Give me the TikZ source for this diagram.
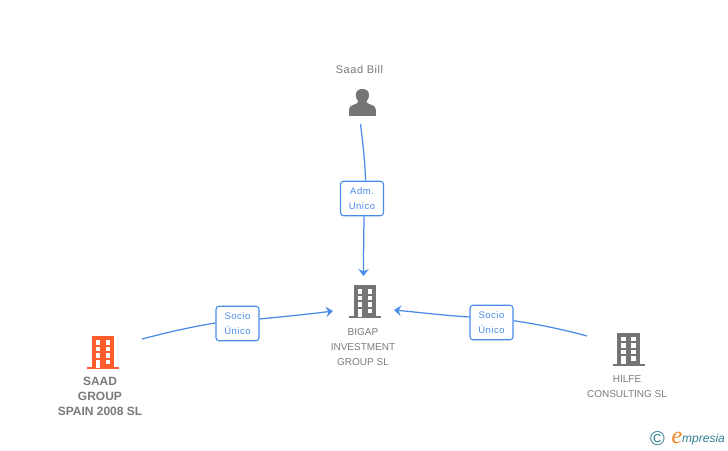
\documentclass[tikz,border=0pt]{standalone}
\usepackage{fontspec}
\setmainfont{Liberation Sans}
\newfontfamily\labelfont[LetterSpace=5]{Liberation Sans}
\newfontfamily\namefont[LetterSpace=5]{Liberation Sans}
\newfontfamily\logofont{Liberation Serif}
\usetikzlibrary{arrows.meta}
\definecolor{icongrey}{HTML}{757575}
\definecolor{txtgrey}{HTML}{7A7A7A}
\definecolor{linkblue}{HTML}{4A8BE8}
\definecolor{hiorange}{HTML}{FF5C2E}
\definecolor{logoteal}{HTML}{2F7C93}
\definecolor{logoorange}{HTML}{F0851E}
\tikzset{
  link/.style={draw=linkblue,line width=1.25pt},
  linkarrow/.style={link,-{Stealth[length=7pt,width=10.5pt,inset=2.4pt]}},
  relbox/.style={draw=linkblue,line width=1.1pt,fill=white,rounded corners=3pt,minimum width=43pt,minimum height=34.5pt,inner sep=0pt,align=center,text=linkblue,font=\labelfont\fontsize{9.5}{15.2}\selectfont},
  nametext/.style={text=txtgrey,align=center,inner sep=0pt,font=\fontsize{10}{15}\selectfont},
  iconanchor/.style={minimum width=32pt,minimum height=33pt,inner sep=0pt},
  pics/building/.style={code={
    \fill[#1] (-11.3,-16.5) rectangle (11.3,15);
    \fill[#1] (-16,14.5) rectangle (16,16.5);
    \foreach \yy in {-12.5,-5.9,0.8}{
      \fill[white] (-7.3,\yy) rectangle (-2.6,\yy+4.6);
      \fill[white] (2.6,\yy) rectangle (7.3,\yy+4.6);
    }
    \fill[white] (-7.3,7.3) rectangle (-2.6,15);
    \fill[white] (2.6,7.3) rectangle (7.3,11.9);
  }},
}
\begin{document}
\begin{tikzpicture}[x=1pt,y=-1pt]
\useasboundingbox (0,0) rectangle (728,450);

% icon nodes
\node[iconanchor] (saadicon) at (362.5,102.5) {};
\node[iconanchor] (bigapicon) at (365,301.5) {};
\node[iconanchor] (saadgroupicon) at (103,352.5) {};
\node[iconanchor] (hilfeicon) at (628.5,349) {};

\pic at (bigapicon.center) {building=icongrey};
\pic at (saadgroupicon.center) {building=hiorange};
\pic at (hilfeicon.center) {building=icongrey};

% person icon
\fill[icongrey] (349,115.8) -- (349,109.5)
  .. controls (349,106.5) and (351,105.6) .. (354,104.6)
  .. controls (356.5,103.8) and (358,103) .. (358.3,101.5)
  .. controls (356.5,99.5) and (355.8,97.5) .. (355.8,95)
  .. controls (355.8,91) and (358.5,89) .. (362.4,89)
  .. controls (366.3,89) and (369,91) .. (369,95)
  .. controls (369,97.5) and (368.3,99.5) .. (366.5,101.5)
  .. controls (366.8,103) and (368.3,103.8) .. (370.8,104.6)
  .. controls (373.8,105.6) and (375.8,106.5) .. (375.8,109.5)
  -- (375.8,115.8) -- cycle;

% labels
\node[nametext,font=\namefont\fontsize{11}{15}\selectfont] (saadname) at (359.5,70) {Saad Bill};
\node[nametext,anchor=north] (bigapname) at (363,328) {BIGAP\\INVESTMENT\\GROUP SL};
\node[nametext,anchor=north,font=\bfseries\fontsize{12}{15}\selectfont] (saadgroupname) at (100,377) {SAAD\\GROUP\\SPAIN 2008 SL};
\node[nametext,anchor=north] (hilfename) at (627,375) {HILFE\\CONSULTING SL};

% relation boxes
\node[relbox] (adm) at (362,198.5) {Adm.\\Unico};
\node[relbox] (socioa) at (237.5,323.5) {Socio\\Único};
\node[relbox] (sociob) at (491.5,322.5) {Socio\\Único};

% free connector ends
\coordinate (saadout) at (360.5,124);
\coordinate (bigaptop) at (363.5,276);
\coordinate (saadgroupout) at (142,339);
\coordinate (bigapleft) at (333,311);
\coordinate (hilfeout) at (587,336);
\coordinate (bigapright) at (394,310);

% connectors
\draw[link] (saadout) .. controls (362.5,140) and (365,160) .. ([xshift=3.5pt]adm.north);
\draw[linkarrow] ([xshift=2pt]adm.south) .. controls (363.8,235) and (363.5,255) .. (bigaptop);
\draw[link] (saadgroupout) .. controls (165,333) and (190,327) .. ([yshift=0.5pt]socioa.west);
\draw[linkarrow] ([yshift=4.5pt]socioa.east) .. controls (285,316.5) and (310,314) .. (bigapleft);
\draw[link] (hilfeout) .. controls (565,330) and (540,324.5) .. ([yshift=1.8pt]sociob.east);
\draw[linkarrow] ([yshift=5.5pt]sociob.west) .. controls (445,315.5) and (420,312.5) .. (bigapright);

% logo
\node[text=logoteal,inner sep=0pt,font=\fontsize{20}{20}\selectfont] (logoc) at (657.5,439) {©};
\node[text=logoorange,inner sep=0pt,font=\logofont\itshape\fontsize{24}{24}\selectfont] (logoe) at (677,437.5) {e};
\node[text=logoteal,inner sep=0pt,anchor=base west,font=\itshape\fontsize{12}{12}\selectfont] (logotext) at (682,442.7) {mpresia};
\end{tikzpicture}
\end{document}
